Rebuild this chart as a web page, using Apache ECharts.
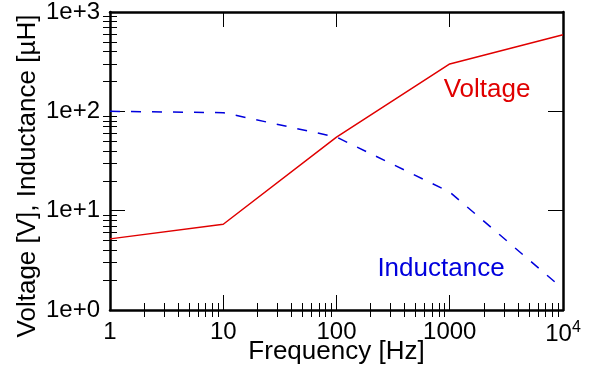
<!DOCTYPE html>
<html>
<head>
<meta charset="utf-8">
<script src="https://cdn.jsdelivr.net/npm/echarts@6/dist/echarts.min.js"></script>
<style>
  html, body {margin: 0; padding: 0; background: #fff;}
  #chart {width: 594px; height: 376px;}
</style>
</head>
<body>
<div id="chart"></div>
<script>
// frequency sweep, log-log
const freq = [1, 10, 100, 1000, 10000];
const voltage = [5.2, 7.3, 55, 300, 590];
const inductance = [100, 97, 55, 15.4, 1.63];
const xTickLabels = {1: '1', 10: '10', 100: '100', 1000: '1000', 10000: '{b|10}{s|4}'};
const yTickLabels = {1: '1e+0', 10: '1e+1', 100: '1e+2', 1000: '1e+3'};
const minorMult = [2, 3, 4, 5, 6, 7, 8, 9];

const font = "'Liberation Sans', Arial, sans-serif";
const red = '#e00000';
const blue = '#0000dd';

// minor tick spots in log10 units for the overlay axes
function minorTicks(decades) {
  const out = [];
  for (let d = 0; d < decades; d++) {
    minorMult.forEach(m => out.push(d + Math.log10(m)));
  }
  return out;
}

const majorAxis = (pos, min, max, labels) => ({
  type: 'log',
  logBase: 10,
  position: pos,
  min: min,
  max: max,
  axisLine: {show: true, onZero: false, lineStyle: {color: '#000', width: 2.5}},
  axisTick: {show: true, inside: true, length: 15, lineStyle: {color: '#000', width: 1}},
  splitLine: {show: false},
  axisLabel: labels ? {
    show: true,
    margin: 10,
    color: '#000',
    fontFamily: font,
    fontSize: 24,
    formatter: v => labels[Math.round(v)],
    rich: {
      b: {fontFamily: font, fontSize: 24, color: '#000'},
      s: {fontFamily: font, fontSize: 16, color: '#000', verticalAlign: 'top', padding: [0, 0, 12, 0]}
    }
  } : {show: false}
});

const minorAxis = (pos, decades) => ({
  type: 'value',
  position: pos,
  min: 0,
  max: decades,
  axisLine: {show: false},
  axisTick: {show: true, inside: true, length: 7, customValues: minorTicks(decades),
    lineStyle: {color: '#000', width: 1}},
  axisLabel: {show: false},
  splitLine: {show: false}
});

const chart = echarts.init(document.getElementById('chart'));
chart.setOption({
  animation: false,
  grid: {left: 110, right: 31, top: 12, bottom: 66, outerBoundsMode: 'none'},
  xAxis: [
    Object.assign(majorAxis('bottom', 1, 10000, xTickLabels), {
      name: 'Frequency [Hz]',
      nameLocation: 'middle',
      nameGap: 29,
      nameMoveOverlap: false,
      nameTextStyle: {fontFamily: font, fontSize: 26, color: '#000', verticalAlign: 'top'}
    }),
    minorAxis('bottom', 4),
    majorAxis('top', 1, 10000, null),
    minorAxis('top', 4)
  ],
  yAxis: [
    majorAxis('left', 1, 1000, yTickLabels),
    minorAxis('left', 3),
    majorAxis('right', 1, 1000, null),
    minorAxis('right', 3)
  ],
  series: [
    {
      name: 'Voltage',
      type: 'line',
      xAxisIndex: 0,
      yAxisIndex: 0,
      data: freq.map((f, i) => [f, voltage[i]]),
      showSymbol: false,
      lineStyle: {color: red, width: 1.5}
    },
    {
      name: 'Inductance',
      type: 'line',
      xAxisIndex: 0,
      yAxisIndex: 0,
      data: freq.map((f, i) => [f, inductance[i]]),
      showSymbol: false,
      lineStyle: {color: blue, width: 1.5, type: [10, 11]}
    }
  ],
  graphic: [
    {
      type: 'text', x: 28, y: 176, rotation: Math.PI / 2,
      style: {text: 'Voltage [V], Inductance [µH]', fontFamily: font, fontSize: 26,
        fill: '#000', align: 'center', verticalAlign: 'middle'}
    },
    {
      type: 'text', x: 487, y: 90,
      style: {text: 'Voltage', fontFamily: font, fontSize: 26, fill: red,
        align: 'center', verticalAlign: 'middle'}
    },
    {
      type: 'text', x: 441, y: 269,
      style: {text: 'Inductance', fontFamily: font, fontSize: 26, fill: blue,
        align: 'center', verticalAlign: 'middle'}
    }
  ]
});
</script>
</body>
</html>
